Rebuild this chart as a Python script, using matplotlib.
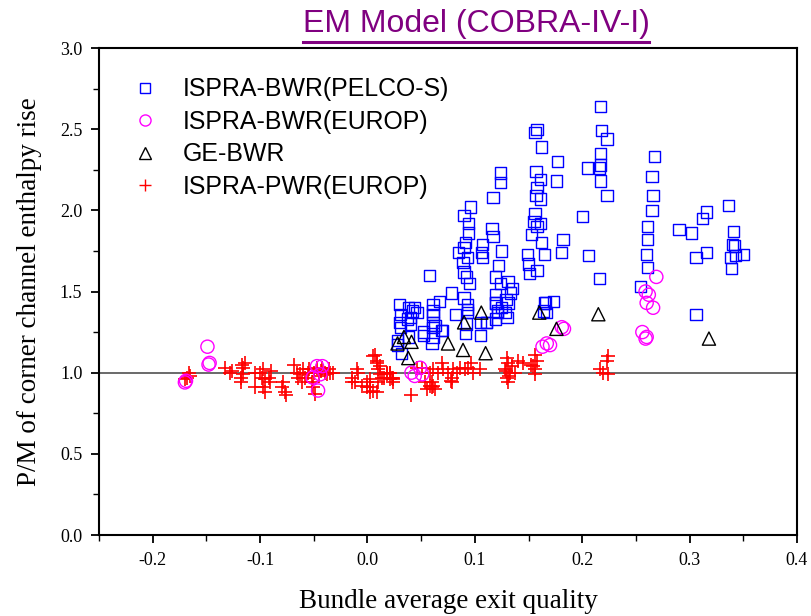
import matplotlib
matplotlib.use("Agg")
import matplotlib.pyplot as plt
from matplotlib.lines import Line2D
from matplotlib.ticker import MultipleLocator, FormatStrFormatter

# ---- data -------------------------------------------------------------
pelco_x = [0.217, 0.158, 0.156, 0.218, 0.223, 0.162, 0.177, 0.217, 0.217, 0.205,
           0.157, 0.216, 0.217, 0.176, 0.124, 0.124, 0.158, 0.157, 0.161, 0.223,
           0.117, 0.096, 0.090, 0.094, 0.094, 0.091, 0.090, 0.093, 0.089, 0.090,
           0.092, 0.095, 0.085, 0.156, 0.155, 0.158, 0.153, 0.162, 0.165, 0.149,
           0.150, 0.151, 0.200, 0.182, 0.181, 0.206, 0.216, 0.116, 0.117, 0.107,
           0.106, 0.107, 0.125, 0.122, 0.119, 0.131, 0.124, 0.133, 0.119, 0.129,
           0.119, 0.121, 0.119, 0.125, 0.111, 0.105, 0.166, 0.173, 0.164, 0.058,
           0.078, 0.067, 0.061, 0.061, 0.061, 0.061, 0.060, 0.082, 0.090, 0.093,
           0.092, 0.091, 0.070, 0.052, 0.030, 0.031, 0.030, 0.031, 0.028, 0.028,
           0.038, 0.042, 0.037, 0.040, 0.038, 0.032, 0.044, 0.046, 0.040, 0.052,
           0.061, 0.061, 0.063, 0.069, 0.093, 0.093, 0.111, 0.105, 0.119, 0.121,
           0.131, 0.128, 0.165, 0.167, 0.161, 0.161, 0.158, 0.135, 0.130,
           0.267, 0.265, 0.266, 0.265, 0.261, 0.261, 0.260, 0.261, 0.254, 0.336,
           0.316, 0.312, 0.290, 0.302, 0.341, 0.340, 0.342, 0.350, 0.343, 0.338,
           0.316, 0.306, 0.339, 0.306]
pelco_y = [2.64, 2.50, 2.48, 2.49, 2.44, 2.39, 2.30, 2.35, 2.28, 2.26,
           2.24, 2.26, 2.18, 2.18, 2.23, 2.17, 2.14, 2.09, 2.07, 2.09,
           2.08, 2.02, 1.97, 1.92, 1.86, 1.80, 1.77, 1.71, 1.68, 1.62,
           1.59, 1.55, 1.74, 1.98, 1.93, 1.90, 1.85, 1.80, 1.73, 1.73,
           1.67, 1.61, 1.96, 1.82, 1.74, 1.72, 1.58, 1.89, 1.84, 1.79,
           1.74, 1.71, 1.75, 1.66, 1.59, 1.56, 1.55, 1.49, 1.48, 1.45,
           1.43, 1.38, 1.33, 1.40, 1.31, 1.23, 1.43, 1.44, 1.38, 1.60,
           1.49, 1.44, 1.38, 1.31, 1.28, 1.22, 1.18, 1.36, 1.46, 1.39,
           1.30, 1.24, 1.26, 1.23, 1.42, 1.36, 1.31, 1.28, 1.20, 1.17,
           1.40, 1.38, 1.33, 1.30, 1.22, 1.12, 1.40, 1.37, 1.34, 1.25,
           1.42, 1.36, 1.29, 1.26, 1.42, 1.37, 1.31, 1.31, 1.43, 1.37,
           1.43, 1.37, 1.43, 1.37, 2.19, 1.92, 1.63, 1.52, 1.34,
           2.33, 2.21, 2.09, 2.00, 1.90, 1.82, 1.73, 1.65, 1.53, 2.03,
           1.99, 1.95, 1.88, 1.86, 1.87, 1.79, 1.78, 1.73, 1.72, 1.71,
           1.74, 1.71, 1.64, 1.36]

bwr_europ_x = [-0.170, -0.169, -0.149, -0.148, -0.147, -0.047, -0.042, -0.044, -0.046,
               -0.051, 0.041, 0.049, 0.051, 0.044, 0.163, 0.167, 0.170, 0.181,
               0.183, 0.269, 0.259, 0.262, 0.260, 0.266, 0.256, 0.260, 0.259]
bwr_europ_y = [0.94, 0.95, 1.16, 1.05, 1.06, 1.04, 1.04, 0.99, 0.89,
               0.97, 1.00, 1.03, 0.99, 0.98, 1.16, 1.18, 1.17, 1.28,
               1.27, 1.59, 1.50, 1.48, 1.43, 1.40, 1.25, 1.22, 1.21]

ge_x = [0.028, 0.034, 0.041, 0.038, 0.075, 0.089, 0.110, 0.106, 0.090,
        0.160, 0.176, 0.215, 0.318]
ge_y = [1.18, 1.22, 1.19, 1.09, 1.18, 1.14, 1.12, 1.37, 1.31,
        1.37, 1.27, 1.36, 1.21]

pwr_x = [-0.168, -0.165, -0.166, -0.170,
         -0.133, -0.126, -0.128,
         -0.117, -0.114, -0.116, -0.116, -0.118, -0.118,
         -0.105, -0.100, -0.097, -0.098, -0.095, -0.091, -0.097, -0.095, -0.105, -0.092, -0.090,
         -0.079, -0.077, -0.080, -0.076,
         -0.068, -0.066, -0.065, -0.061, -0.058, -0.055, -0.054, -0.052, -0.051, -0.049,
         -0.047, -0.042, -0.040, -0.038, -0.035, -0.032, -0.060, -0.063, -0.045, -0.043,
         -0.050, -0.036,
         -0.014, -0.012, -0.010, -0.009, -0.014, -0.005, 0.000, 0.002, 0.005, 0.009,
         0.007, 0.010, 0.012, 0.015, 0.018, 0.021, 0.024, 0.002, 0.009,
         0.005, 0.009, 0.012, 0.002, 0.010, 0.014, 0.018, 0.021, 0.024, 0.000,
         0.021, 0.023, 0.024,
         0.041, 0.046, 0.051, 0.054, 0.058, 0.061, 0.060,
         0.058, 0.061, 0.066, 0.069, 0.070, 0.075, 0.079, 0.080, 0.083, 0.086,
         0.091, 0.094, 0.096, 0.098, 0.105, 0.079, 0.055, 0.060, 0.063, 0.078,
         0.130, 0.131, 0.128, 0.133, 0.130, 0.131, 0.135, 0.140, 0.145, 0.137,
         0.129, 0.132,
         0.156, 0.158, 0.154, 0.156, 0.156, 0.152,
         0.224, 0.223, 0.217, 0.219, 0.224]
pwr_y = [0.97, 0.98, 1.00, 0.96,
         1.03, 1.01, 1.00,
         1.05, 1.06, 1.03, 0.99, 0.97, 0.94,
         1.00, 1.00, 1.02, 0.97, 0.96, 0.94, 0.91, 0.88, 0.91, 0.97, 1.01,
         0.94, 0.88, 0.91, 0.86,
         1.05, 1.00, 0.97, 0.94, 0.97, 1.00, 1.02, 0.94, 0.91, 0.87,
         1.03, 1.03, 1.00, 0.99, 1.00, 1.00, 1.02, 0.99, 0.98, 1.01,
         1.00, 1.02,
         0.97, 0.94, 1.02, 1.00, 0.94, 0.92, 0.94, 0.91, 0.89, 1.07,
         1.11, 1.02, 0.99, 0.97, 1.00, 0.96, 0.97, 0.88, 0.88,
         1.10, 1.06, 1.04, 0.96, 0.94, 0.97, 0.99, 1.00, 0.96, 0.91,
         1.00, 0.97, 0.94,
         0.86, 1.03, 1.03, 0.94, 0.92, 0.92, 0.94,
         1.00, 1.02, 1.00, 1.06, 1.02, 1.00, 0.94, 1.02, 1.00, 1.03,
         1.02, 1.03, 1.06, 1.00, 1.02, 0.97, 0.90, 0.91, 0.90, 0.95,
         1.09, 1.06, 1.02, 1.00, 0.97, 0.94, 1.04, 1.07, 1.06, 1.00,
         1.01, 0.98,
         1.11, 1.07, 1.04, 1.02, 0.99, 1.05,
         1.10, 1.07, 1.02, 1.00, 0.99]

series_labels = ["ISPRA-BWR(PELCO-S)", "ISPRA-BWR(EUROP)", "GE-BWR", "ISPRA-PWR(EUROP)"]
x_ticks = [-0.2, -0.1, 0.0, 0.1, 0.2, 0.3, 0.4]
y_ticks = [0.0, 0.5, 1.0, 1.5, 2.0, 2.5, 3.0]

# ---- figure -----------------------------------------------------------
serif = "Liberation Serif"
sans = "Liberation Sans"

fig = plt.figure(figsize=(8.11, 6.16), dpi=100)
ax = fig.add_axes([99 / 811, 1 - 535 / 616, 698 / 811, 487 / 616])

ax.axhline(1.0, color="#505050", lw=1.2, zorder=1)

ax.scatter(pelco_x, pelco_y, marker="s", s=66, facecolors="none",
           edgecolors="#0000ff", linewidths=1.0, zorder=3)
ax.scatter(bwr_europ_x, bwr_europ_y, marker="o", s=90, facecolors="none",
           edgecolors="#ff00ff", linewidths=1.0, zorder=3)
ax.scatter(ge_x, ge_y, marker="^", s=90, facecolors="none",
           edgecolors="black", linewidths=1.0, zorder=4)
ax.scatter(pwr_x, pwr_y, marker="+", s=90, color="#ff0000",
           linewidths=1.2, zorder=2)

ax.set_xlim(-0.25, 0.4)
ax.set_ylim(0.0, 3.0)
ax.set_xticks(x_ticks)
ax.set_yticks(y_ticks)
ax.xaxis.set_minor_locator(MultipleLocator(0.05))
ax.yaxis.set_minor_locator(MultipleLocator(0.25))
ax.xaxis.set_major_formatter(FormatStrFormatter("%.1f"))
ax.yaxis.set_major_formatter(FormatStrFormatter("%.1f"))
ax.tick_params(which="major", direction="out", length=6, width=1.3,
               labelsize=13, pad=6)
ax.tick_params(which="minor", direction="out", length=4, width=1.0)
for lab in ax.get_xticklabels() + ax.get_yticklabels():
    lab.set_fontfamily(serif)
for sp in ax.spines.values():
    sp.set_linewidth(1.5)

ax.set_xlabel("Bundle average exit quality", fontfamily=serif, fontsize=19.5,
              labelpad=15)
ax.set_ylabel("P/M of corner channel enthalpy rise", fontfamily=serif,
              fontsize=19.5, labelpad=13)

handles = [
    Line2D([], [], ls="none", marker="s", ms=7, mfc="none", mec="#0000ff", mew=1.0),
    Line2D([], [], ls="none", marker="o", ms=8, mfc="none", mec="#ff00ff", mew=1.0),
    Line2D([], [], ls="none", marker="^", ms=8, mfc="none", mec="black", mew=1.0),
    Line2D([], [], ls="none", marker="+", ms=8, color="#ff0000", mew=1.0),
]
ax.legend(handles, series_labels, loc="upper left", bbox_to_anchor=(0.031, 0.965),
          frameon=False, borderpad=0, handlelength=1.0, handletextpad=1.0,
          labelspacing=0.34, prop={"family": sans, "size": 17.9})

# underlined title
title = fig.text(476 / 811, 1 - 24 / 616, "EM Model (COBRA-IV-I)", ha="center",
                 va="center", fontfamily=sans, fontsize=23, color="#800080")
fig.canvas.draw()
bb = title.get_window_extent().transformed(fig.transFigure.inverted())
fig.add_artist(Line2D([bb.x0, bb.x1], [1 - 42 / 616, 1 - 42 / 616],
                      transform=fig.transFigure, color="#800080", lw=2.2))

fig.savefig("out.png", dpi=100)
